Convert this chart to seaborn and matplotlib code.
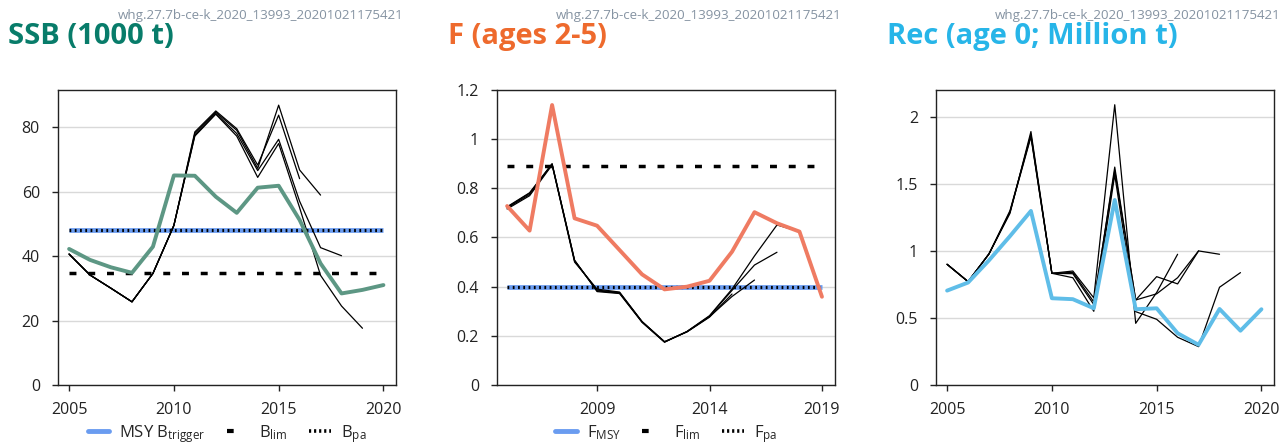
import numpy as np
import pandas as pd
import matplotlib.pyplot as plt
import seaborn as sns

# ---- data ----
years = list(range(2005, 2021))

ssb = [42.2, 38.8, 36.5, 34.8, 42.9, 65.0, 64.9, 58.4, 53.4, 61.2, 61.8, 51.2, 37.7, 28.4, 29.5, 31.0]
ssb_retro = {
    2016: [40.6, 34.1, 30.0, 25.8, 34.6, 49.5, 78.5, 85.0, 79.5, 68.2, 83.7, 64.0],
    2017: [40.6, 34.1, 30.0, 25.8, 34.6, 49.5, 78.0, 84.6, 79.0, 67.2, 86.8, 66.7, 58.9],
    2018: [40.6, 34.1, 30.0, 25.8, 34.6, 49.5, 77.5, 84.2, 78.0, 66.5, 76.2, 57.0, 42.6, 40.1],
    2019: [40.6, 34.1, 30.0, 25.8, 34.6, 49.5, 77.2, 84.0, 77.2, 64.4, 74.9, 55.0, 34.0, 24.5, 17.6],
}
msy_btrigger = 48.0
blim = 34.6
bpa = 48.0

f_years = list(range(2005, 2020))
fbar = [0.728, 0.628, 1.139, 0.678, 0.648, 0.549, 0.450, 0.389, 0.400, 0.424, 0.542, 0.703, 0.658, 0.624, 0.359]
f_retro = {
    2015: [0.716, 0.770, 0.895, 0.500, 0.390, 0.378, 0.258, 0.176, 0.216, 0.276, 0.370],
    2016: [0.720, 0.775, 0.898, 0.505, 0.386, 0.376, 0.258, 0.176, 0.217, 0.278, 0.360, 0.427],
    2017: [0.723, 0.780, 0.899, 0.506, 0.383, 0.374, 0.256, 0.175, 0.217, 0.280, 0.385, 0.488, 0.540],
    2018: [0.725, 0.782, 0.900, 0.508, 0.380, 0.372, 0.255, 0.174, 0.218, 0.282, 0.390, 0.525, 0.651, 0.624],
}
fmsy = 0.40
flim = 0.89
fpa = 0.40

rec = [0.704, 0.764, 0.930, 1.110, 1.298, 0.647, 0.640, 0.572, 1.380, 0.565, 0.572, 0.386, 0.300, 0.567, 0.405, 0.565]
rec_retro = {
    2016: [0.900, 0.771, 0.978, 1.280, 1.890, 0.833, 0.850, 0.650, 2.090, 0.460, 0.690, 0.975],
    2017: [0.900, 0.771, 0.978, 1.290, 1.870, 0.833, 0.830, 0.600, 1.625, 0.634, 0.680, 0.800, 1.000],
    2018: [0.900, 0.771, 0.978, 1.300, 1.860, 0.833, 0.840, 0.620, 1.600, 0.634, 0.808, 0.754, 1.000, 0.975],
    2019: [0.900, 0.771, 0.978, 1.290, 1.850, 0.833, 0.800, 0.550, 1.567, 0.547, 0.490, 0.356, 0.286, 0.729, 0.838],
}

stamp = "whg.27.7b-ce-k_2020_13993_20201021175421"

sns.set_theme(style="white")
plt.rcParams["font.family"] = ["Open Sans", "DejaVu Sans"]
plt.rcParams["mathtext.fontset"] = "custom"
plt.rcParams["mathtext.rm"] = "Open Sans"
plt.rcParams["mathtext.it"] = "Open Sans"

fig = plt.figure(figsize=(12.82, 4.46), dpi=100)
W, H = 1282, 446


def make_ax(left_px):
    return fig.add_axes([left_px / W, (H - 385) / H, 338 / W, 295 / H])


def retro_frame(retro, start):
    rows = []
    for end, vals in retro.items():
        for i, v in enumerate(vals):
            rows.append({"year": start + i, "value": v, "run": str(end)})
    return pd.DataFrame(rows)


def style_ax(ax, xticks, xlim, ylim, yticks, yticklabels):
    ax.set_xlim(*xlim)
    ax.set_ylim(*ylim)
    ax.set_xticks(xticks)
    ax.set_xticklabels([str(t) for t in xticks])
    ax.set_yticks(yticks)
    ax.set_yticklabels(yticklabels)
    ax.grid(axis="y", color="#d9d9d9", lw=1)
    ax.grid(axis="x", visible=False)
    ax.set_axisbelow(True)
    for s in ax.spines.values():
        s.set_color("#222222")
        s.set_linewidth(1.0)
    ax.tick_params(axis="both", labelsize=11.5, colors="#222222", length=4, width=1,
                   direction="out", bottom=True, left=True)
    ax.tick_params(axis="x", pad=8)
    ax.tick_params(axis="y", pad=9)
    ax.set_xlabel("")
    ax.set_ylabel("")


def ref_lines(ax, x0, x1, msy, lim, pa):
    ax.hlines(msy, x0, x1, color="#6a9cf0", lw=3.4, zorder=2)
    ax.hlines(lim, x0, x1, color="black", lw=2.5, linestyles=(0, (2.0, 3.4)), zorder=3)
    ax.hlines(pa, x0, x1, color="black", lw=2.3, linestyles=(0, (0.55, 1.1)), zorder=3)


def add_legend(ax, labels):
    handles = [
        plt.Line2D([], [], color="#6a9cf0", lw=3.5),
        plt.Line2D([], [], color="black", lw=3, linestyle=(0, (1.6, 10))),
        plt.Line2D([], [], color="black", lw=2.6, linestyle=(0, (0.6, 0.8))),
    ]
    ax.legend(handles, labels, loc="center", bbox_to_anchor=(0.5, -0.165), ncol=3,
              frameon=False, fontsize=12, handlelength=1.3, handletextpad=0.6,
              columnspacing=1.3, borderpad=0.1)


def header(left_px, stamp_right_px, text, color):
    fig.text(left_px / W, (H - 44) / H, text, fontsize=21, fontweight="bold",
             color=color, va="baseline", ha="left")
    fig.text(stamp_right_px / W, (H - 19) / H, stamp, fontsize=9.6, color="#8593a2",
             va="baseline", ha="right")


# ---- SSB ----
ax1 = make_ax(58)
df_r = retro_frame(ssb_retro, years[0])
sns.lineplot(data=df_r, x="year", y="value", units="run", estimator=None,
             color="black", lw=0.9, ax=ax1, zorder=4)
ref_lines(ax1, years[0], years[-1], msy_btrigger, blim, bpa)
sns.lineplot(x=years, y=ssb, color="#5d9784", lw=2.8, ax=ax1, zorder=5)
style_ax(ax1, [2005, 2010, 2015, 2020], (2004.47, 2020.6), (0, 91.5),
         [0, 20, 40, 60, 80], ["0", "20", "40", "60", "80"])
add_legend(ax1, [r"MSY B$_{\mathrm{trigger}}$", r"B$_{\mathrm{lim}}$", r"B$_{\mathrm{pa}}$"])
header(8, 404, "SSB (1000 t)", "#087c6a")

# ---- F ----
ax2 = make_ax(497)
df_f = retro_frame(f_retro, f_years[0])
sns.lineplot(data=df_f, x="year", y="value", units="run", estimator=None,
             color="black", lw=0.9, ax=ax2, zorder=4)
ref_lines(ax2, f_years[0], f_years[-1], fmsy, flim, fpa)
sns.lineplot(x=f_years, y=fbar, color="#ef7b62", lw=2.8, ax=ax2, zorder=5)
style_ax(ax2, [2009, 2014, 2019], (2004.55, 2019.58), (0, 1.2),
         [0, 0.2, 0.4, 0.6, 0.8, 1.0, 1.2], ["0", "0.2", "0.4", "0.6", "0.8", "1", "1.2"])
add_legend(ax2, [r"F$_{\mathrm{MSY}}$", r"F$_{\mathrm{lim}}$", r"F$_{\mathrm{pa}}$"])
header(448, 842, "F (ages 2-5)", "#ee6a2d")

# ---- Recruitment ----
ax3 = make_ax(936)
df_rc = retro_frame(rec_retro, years[0])
sns.lineplot(data=df_rc, x="year", y="value", units="run", estimator=None,
             color="black", lw=0.9, ax=ax3, zorder=4)
sns.lineplot(x=years, y=rec, color="#5fbde8", lw=2.8, ax=ax3, zorder=5)
style_ax(ax3, [2005, 2010, 2015, 2020], (2004.47, 2020.6), (0, 2.2),
         [0, 0.5, 1.0, 1.5, 2.0], ["0", "0.5", "1", "1.5", "2"])
header(887, 1281, "Rec (age 0; Million t)", "#27b5e8")

fig.savefig("out.png", dpi=100)
